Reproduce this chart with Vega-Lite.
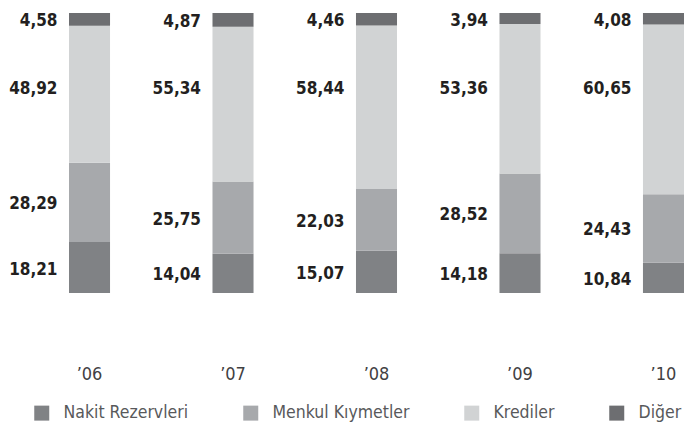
{
  "$schema": "https://vega.github.io/schema/vega-lite/v6.json",
  "width": 615,
  "height": 280,
  "autosize": "none",
  "padding": {"left": 69, "top": 13, "right": 0, "bottom": 130},
  "background": "white",
  "config": {
    "view": {"stroke": null},
    "font": "DejaVu Sans Condensed",
    "locale": {"number": {"decimal": ",", "thousands": ".", "grouping": [3], "currency": ["", " TL"]}}
  },
  "data": {"values": [
    {"year": "’06", "cat": "Nakit Rezervleri", "value": 18.21},
    {"year": "’06", "cat": "Menkul Kıymetler", "value": 28.29},
    {"year": "’06", "cat": "Krediler", "value": 48.92},
    {"year": "’06", "cat": "Diğer", "value": 4.58},
    {"year": "’07", "cat": "Nakit Rezervleri", "value": 14.04},
    {"year": "’07", "cat": "Menkul Kıymetler", "value": 25.75},
    {"year": "’07", "cat": "Krediler", "value": 55.34},
    {"year": "’07", "cat": "Diğer", "value": 4.87},
    {"year": "’08", "cat": "Nakit Rezervleri", "value": 15.07},
    {"year": "’08", "cat": "Menkul Kıymetler", "value": 22.03},
    {"year": "’08", "cat": "Krediler", "value": 58.44},
    {"year": "’08", "cat": "Diğer", "value": 4.46},
    {"year": "’09", "cat": "Nakit Rezervleri", "value": 14.18},
    {"year": "’09", "cat": "Menkul Kıymetler", "value": 28.52},
    {"year": "’09", "cat": "Krediler", "value": 53.36},
    {"year": "’09", "cat": "Diğer", "value": 3.94},
    {"year": "’10", "cat": "Nakit Rezervleri", "value": 10.84},
    {"year": "’10", "cat": "Menkul Kıymetler", "value": 24.43},
    {"year": "’10", "cat": "Krediler", "value": 60.65},
    {"year": "’10", "cat": "Diğer", "value": 4.08}
  ]},
  "transform": [
    {"calculate": "indexof(['Nakit Rezervleri','Menkul Kıymetler','Krediler','Diğer'], datum.cat)", "as": "o"},
    {"stack": "value", "groupby": ["year"], "sort": [{"field": "o", "order": "ascending"}], "as": ["v0", "v1"]},
    {"calculate": "(datum.v0 + datum.v1) / 2", "as": "mid"}
  ],
  "encoding": {
    "x": {
      "field": "year", "type": "nominal", "sort": null,
      "scale": {"paddingInner": 0.714, "paddingOuter": 0},
      "axis": {"title": null, "domain": false, "ticks": false, "labelAngle": 0, "labelPadding": 72, "labelFontSize": 18, "labelColor": "#414042", "labelFont": "DejaVu Sans Condensed", "labelFontWeight": 300}
    }
  },
  "layer": [
    {
      "mark": {"type": "bar"},
      "encoding": {
        "y": {"field": "v0", "type": "quantitative", "scale": {"domain": [0, 100]}, "axis": null},
        "y2": {"field": "v1"},
        "color": {
          "field": "cat", "type": "nominal",
          "scale": {"domain": ["Nakit Rezervleri", "Menkul Kıymetler", "Krediler", "Diğer"], "range": ["#808285", "#a7a9ac", "#d1d3d4", "#6d6e71"]},
          "legend": {
            "title": null, "orient": "none", "direction": "horizontal", "legendX": -36, "legendY": 391,
            "symbolType": "square", "symbolSize": 225, "symbolStrokeWidth": 0, "symbolOpacity": 1,
            "labelFontSize": 17.5, "labelColor": "#58595b", "labelOffset": 13, "columnPadding": 53, "labelLimit": 300
          }
        }
      }
    },
    {
      "transform": [{"filter": "datum.cat != 'Krediler'"}],
      "mark": {"type": "text", "align": "right", "baseline": "middle", "dx": -32, "dy": 2, "fontSize": 17, "fontWeight": "bold", "color": "#231f20"},
      "encoding": {
        "y": {"field": "mid", "type": "quantitative"},
        "text": {"field": "value", "type": "quantitative", "format": ".2f"}
      }
    },
    {
      "transform": [{"filter": "datum.cat == 'Krediler'"}],
      "mark": {"type": "text", "align": "right", "baseline": "middle", "dx": -32, "fontSize": 17, "fontWeight": "bold", "color": "#231f20"},
      "encoding": {
        "y": {"datum": 73},
        "text": {"field": "value", "type": "quantitative", "format": ".2f"}
      }
    }
  ]
}
